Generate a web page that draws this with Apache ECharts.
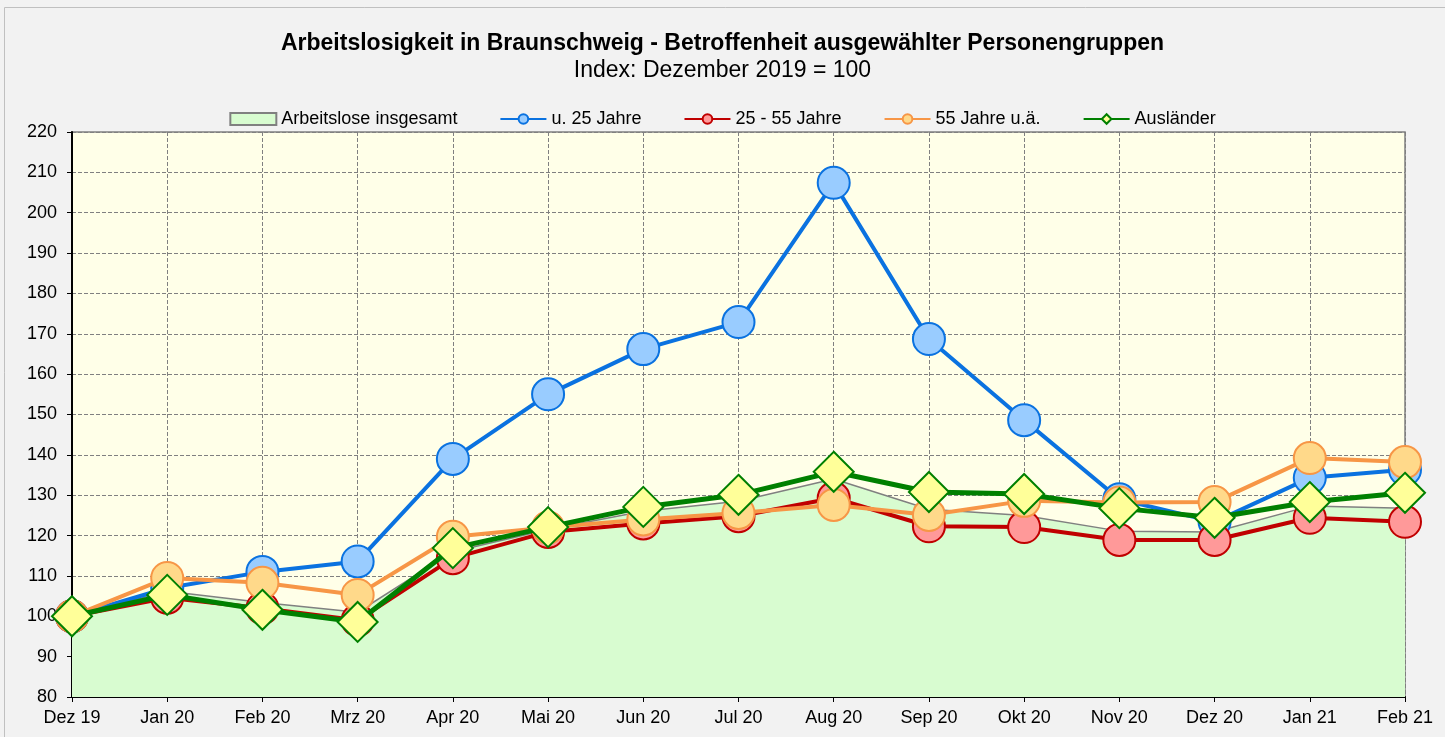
<!DOCTYPE html>
<html>
<head>
<meta charset="utf-8">
<script src="https://cdn.jsdelivr.net/npm/echarts@6/dist/echarts.min.js"></script>
<style>
  html, body { margin: 0; padding: 0; background: #f2f2f2; }
  #chart { width: 1445px; height: 737px; }
</style>
</head>
<body>
<div id="chart"></div>
<script>
const months = ['Dez 19', 'Jan 20', 'Feb 20', 'Mrz 20', 'Apr 20', 'Mai 20', 'Jun 20', 'Jul 20',
  'Aug 20', 'Sep 20', 'Okt 20', 'Nov 20', 'Dez 20', 'Jan 21', 'Feb 21']

const insgesamt = [100, 106.2, 103.4, 101, 116, 121.5, 126, 128.5, 134, 126.5, 125, 121.1, 120.9, 127.3, 126.8]
const unter25 = [100, 107, 111, 113.6, 139, 155, 166.2, 172.9, 207.4, 168.7, 148.6, 129, 123.4, 134.3, 136.3]
const mitte25bis55 = [100, 104.6, 102, 99, 114.4, 120.9, 123, 124.8, 129.3, 122.3, 122.1, 118.9, 118.9, 124.4, 123.4]
const ab55 = [100, 109.5, 108.3, 105.3, 119.7, 122, 124, 125.6, 127.6, 125.1, 128.6, 128.2, 128.3, 139.2, 138.2]
const auslaender = [100, 105.3, 101.6, 98.6, 116.9, 122.1, 127.1, 130.1, 135.8, 130.8, 130.3, 126.8, 124.4, 128.3, 130.6]

const yTicks = { min: 80, max: 220, step: 10 }

let myChart = echarts.init(document.getElementById('chart'))

function circleSeries(name, data, lineColor, fillColor, z) {
  return {
    name: name,
    type: 'line',
    data: data,
    z: z,
    symbol: 'circle',
    symbolSize: 32,
    lineStyle: { color: lineColor, width: 4 },
    itemStyle: { color: fillColor, borderColor: lineColor, borderWidth: 2 }
  }
}

const option = {
  backgroundColor: '#f2f2f2',
  animation: false,
  textStyle: { fontFamily: 'Liberation Sans, Arial, sans-serif' },
  title: {
    text: 'Arbeitslosigkeit in Braunschweig - Betroffenheit ausgewählter Personengruppen',
    subtext: 'Index: Dezember 2019 = 100',
    left: 'center',
    top: 27,
    itemGap: 4,
    textStyle: { fontSize: 23, fontWeight: 'bold', color: '#000' },
    subtextStyle: { fontSize: 23, color: '#000' }
  },
  legend: {
    top: 105,
    left: 'center',
    itemWidth: 46,
    itemHeight: 12,
    itemGap: 42,
    textStyle: { fontSize: 18, color: '#000' },
    data: [
      { name: 'Arbeitslose insgesamt', icon: 'rect', itemStyle: { color: '#d8fcd0', borderColor: '#808080', borderWidth: 2 } },
      'u. 25 Jahre', '25 - 55 Jahre', '55 Jahre u.ä.', 'Ausländer'
    ]
  },
  grid: {
    left: 72, right: 40, top: 132, bottom: 40,
    show: true,
    backgroundColor: '#ffffe8',
    borderColor: '#808080',
    borderWidth: 1.5
  },
  xAxis: {
    type: 'category',
    data: months,
    boundaryGap: false,
    axisLine: { lineStyle: { color: '#000', width: 2 } },
    axisTick: { show: true, alignWithLabel: true, lineStyle: { color: '#000' } },
    axisLabel: { fontSize: 18, color: '#000', margin: 12 },
    splitLine: { show: true, lineStyle: { color: '#808080', type: 'dashed' } }
  },
  yAxis: {
    type: 'value',
    min: yTicks.min,
    max: yTicks.max,
    interval: yTicks.step,
    axisLine: { show: true, lineStyle: { color: '#000', width: 2 } },
    axisTick: { show: true, lineStyle: { color: '#000' } },
    axisLabel: { fontSize: 18, color: '#000', margin: 15 },
    splitLine: { show: true, lineStyle: { color: '#808080', type: 'dashed' } }
  },
  graphic: [{
    type: 'rect',
    silent: true,
    shape: { x: 4.5, y: 7.5, width: 1460, height: 760 },
    style: { fill: null, stroke: '#c0c0c0', lineWidth: 1 }
  }],
  series: [
    {
      name: 'Arbeitslose insgesamt',
      type: 'line',
      data: insgesamt,
      z: 1,
      symbol: 'none',
      lineStyle: { color: '#808080', width: 1.5 },
      itemStyle: { color: '#d8fcd0', borderColor: '#808080' },
      areaStyle: { color: '#d8fcd0', opacity: 1, origin: 'start' }
    },
    circleSeries('u. 25 Jahre', unter25, '#0a72e0', '#99ccff', 2),
    circleSeries('25 - 55 Jahre', mitte25bis55, '#c00000', '#ff9999', 3),
    circleSeries('55 Jahre u.ä.', ab55, '#f79646', '#ffd98a', 4),
    {
      name: 'Ausländer',
      type: 'line',
      data: auslaender,
      z: 5,
      symbol: 'diamond',
      symbolSize: [40, 40],
      lineStyle: { color: '#008000', width: 5 },
      itemStyle: { color: '#ffff99', borderColor: '#008000', borderWidth: 2 }
    }
  ]
}

option && myChart.setOption(option)
</script>
</body>
</html>
